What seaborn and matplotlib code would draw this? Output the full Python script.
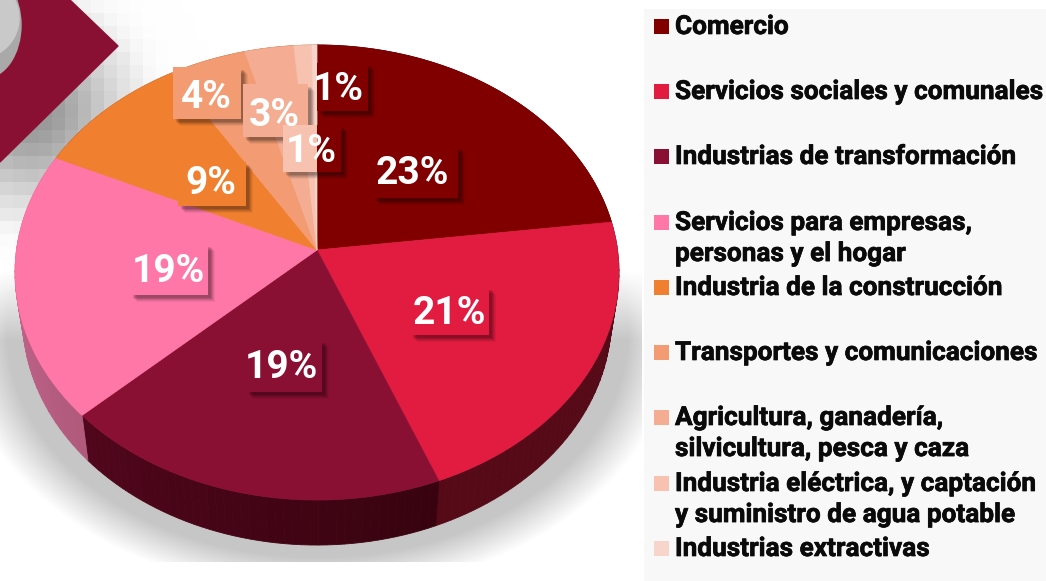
import numpy as np
import matplotlib
matplotlib.use('Agg')
import matplotlib.pyplot as plt
import matplotlib.patheffects as pe
import seaborn as sns
from matplotlib.patches import Rectangle, Polygon, Ellipse
from matplotlib.transforms import Transform

# datos
categorias = ['Comercio', 'Servicios sociales y comunales', 'Industrias de transformación',
              'Servicios para empresas,\npersonas y el hogar', 'Industria de la construcción',
              'Transportes y comunicaciones', 'Agricultura, ganadería,\nsilvicultura, pesca y caza',
              'Industria eléctrica, y captación\ny suministro de agua potable', 'Industrias extractivas']
valores = [23.0, 21.0, 19.0, 19.0, 9.25, 4.5, 2.9, 1.05, 0.3]
etiquetas = ['23%', '21%', '19%', '19%', '9%', '4%', '3%', '1%', '1%']
colores = ['#800000', '#e11c40', '#8a1033', '#ff77a6', '#f08030', '#f39b72', '#f4ad92', '#f7c3b0', '#f8d5cb']

# geometria de la perspectiva, en pixeles
cx, cy = 317, 250
A, B, k = 300.5, 225.3, 0.0989
grosor = 45

# centro del texto y caja de cada etiqueta (x0, y0, x1, y1)
pos_texto = [(412, 174), (449, 313), (281, 368), (168, 271), (211, 184), (206, 97), (274, 115), (311, 151), (338, 89)]
cajas = [(373, 146, 458, 198), (410, 287, 489, 335), (246, 340, 322, 392), (130, 244, 208, 295),
         (178, 162, 246, 206), (173, 67, 241, 119), (243, 84, 308, 137), (283, 125, 341, 172), (317, 63, 368, 111)]
ley_y = [26, 91, 156, 222, 287, 352, 417, 483, 548]


class Perspectiva(Transform):
    input_dims = 2
    output_dims = 2

    def transform_non_affine(self, values):
        values = np.asarray(values)
        w = 1 + k * values[:, 1]
        return np.column_stack([cx + A * values[:, 0] / w, cy - B * values[:, 1] / w])


def borde(ang, baja=False):
    # ang en grados a partir de las 12, sentido horario
    u, v = np.sin(np.radians(ang)), np.cos(np.radians(ang))
    w = 1 + k * v
    x, y = A * u / w, B * v / w
    if baja:
        return cx + 0.975 * x, cy - y + grosor
    return cx + x, cy - y


sns.set_theme(style='white')
plt.rcParams['font.family'] = ['Roboto', 'DejaVu Sans']
paleta = sns.color_palette(colores)

fig = plt.figure(figsize=(10.46, 5.81), dpi=100)
ax = fig.add_axes([0, 0, 1, 1])

# pie primero, luego se reajustan los ejes a pixeles
wedges, _ = ax.pie(valores, colors=paleta, startangle=90, counterclock=False,
                   wedgeprops=dict(linewidth=0.5))
trans = Perspectiva() + ax.transData
ax.set_aspect('auto')
ax.set_xlim(0, 1046)
ax.set_ylim(581, 0)
ax.axis('off')
for w, c in zip(wedges, paleta):
    w.set_transform(trans)
    w.set_edgecolor(c)
    w.set_zorder(5)

# fondo pixelado de la esquina
gx, gy = np.meshgrid(np.arange(0, 260, 13), np.arange(0, 260, 13))
osc = 0.42 * np.exp(-((gx + 6 - 30) ** 2 + (gy + 6 - 110) ** 2) / (2 * 60 ** 2))
ax.imshow(1 - osc, cmap='gray', vmin=0, vmax=1, extent=(0, 260, 260, 0), interpolation='nearest',
          aspect='auto', zorder=0, alpha=np.clip(osc * 12, 0, 1))

# sombra bajo el pastel
yy, xx = np.mgrid[0:581, 0:1046]
r = np.sqrt(((xx - 317) / 345) ** 2 + ((yy - 330) / 252) ** 2)
alfa = np.clip((1.04 - r) / 0.14, 0, 1) * np.clip((yy - 270) / 70, 0, 1)
alfa[yy > 561] = 0
alfa[xx > 641] = 0
img = np.ones((581, 1046, 4)) * 0.78
img[..., 3] = alfa
ax.imshow(img, extent=(0, 1046, 581, 0), aspect='auto', zorder=1)
ax.set_xlim(0, 1046)
ax.set_ylim(581, 0)

# flecha y circulo de la esquina
ax.add_patch(Polygon([(0, 0), (70, 0), (118, 46), (0, 162)], color='#8a1033', zorder=2))
ax.add_patch(Ellipse((-15, 25), 72, 106, color='#a9a9a9', zorder=3))
ax.add_patch(Ellipse((-20, 18), 78, 80, color='#c9c9c9', zorder=3))

# pared lateral, tiras con degradado
lados = [('#560a18', '#560a18'), ('#560a18', '#560a18'), ('#38030f', '#50061c'), ('#b05a7c', '#d06a95'),
         ('#a85a20', '#a85a20'), ('#a85a20', '#a85a20'), ('#a85a20', '#a85a20'), ('#a85a20', '#a85a20'), ('#a85a20', '#a85a20')]
acum = np.concatenate([[0], np.cumsum(valores)]) * 3.6
for i in range(len(valores)):
    tramos = max(2, int((acum[i + 1] - acum[i]) / 1.5))
    grad = sns.blend_palette(lados[i], tramos)
    angs = np.linspace(acum[i], acum[i + 1], tramos + 1)
    for j in range(tramos):
        a = np.linspace(angs[j], angs[j + 1], 4)
        x1, y1 = borde(a)
        x2, y2 = borde(a, baja=True)
        ax.fill(np.r_[x1, x2[::-1]], np.r_[y1, y2[::-1]], color=grad[j], lw=0.6, zorder=4)


def caja(x0, y0, x1, y1, color, z):
    # sombra difusa abajo a la derecha
    for d, al in [(7, 0.05), (6, 0.07), (5, 0.09), (4, 0.11), (3, 0.13)]:
        ax.add_patch(Rectangle((x0 + d, y0 + d), x1 - x0, y1 - y0, color='black', alpha=al, lw=0, zorder=z))
    ax.add_patch(Rectangle((x0, y0), x1 - x0, y1 - y0, color=color, lw=0, zorder=z + 0.1))


for i, (et, p, b) in enumerate(zip(etiquetas, pos_texto, cajas)):
    z = 6 + i * 0.5
    # las dos ultimas cajas caen sobre comercio
    caja(*b, paleta[0] if i == 8 else paleta[i], z)
    if i == 7:
        ax.add_patch(Rectangle((cx, b[1]), b[2] - cx, b[3] - b[1], color=paleta[0], lw=0, zorder=z + 0.2))
    ax.text(p[0], p[1], et, color='white', fontsize=28, fontweight='bold', ha='center', va='center', zorder=12)

# leyenda
ax.add_patch(Rectangle((644, 9), 402, 572, color='#f8f8f8', lw=0, zorder=1.5))
for cat, c, y in zip(categorias, paleta, ley_y):
    ax.add_patch(Rectangle((654, y - 7.5), 15, 15, color=c, lw=0, zorder=5))
    ax.text(675, y - 11, cat, color='#0a0a0a', fontsize=18.85, fontweight='bold', ha='left', va='top',
            linespacing=1.37, zorder=5, path_effects=[pe.withStroke(linewidth=0.5, foreground='#0a0a0a')])

fig.savefig('out.png', dpi=100)
